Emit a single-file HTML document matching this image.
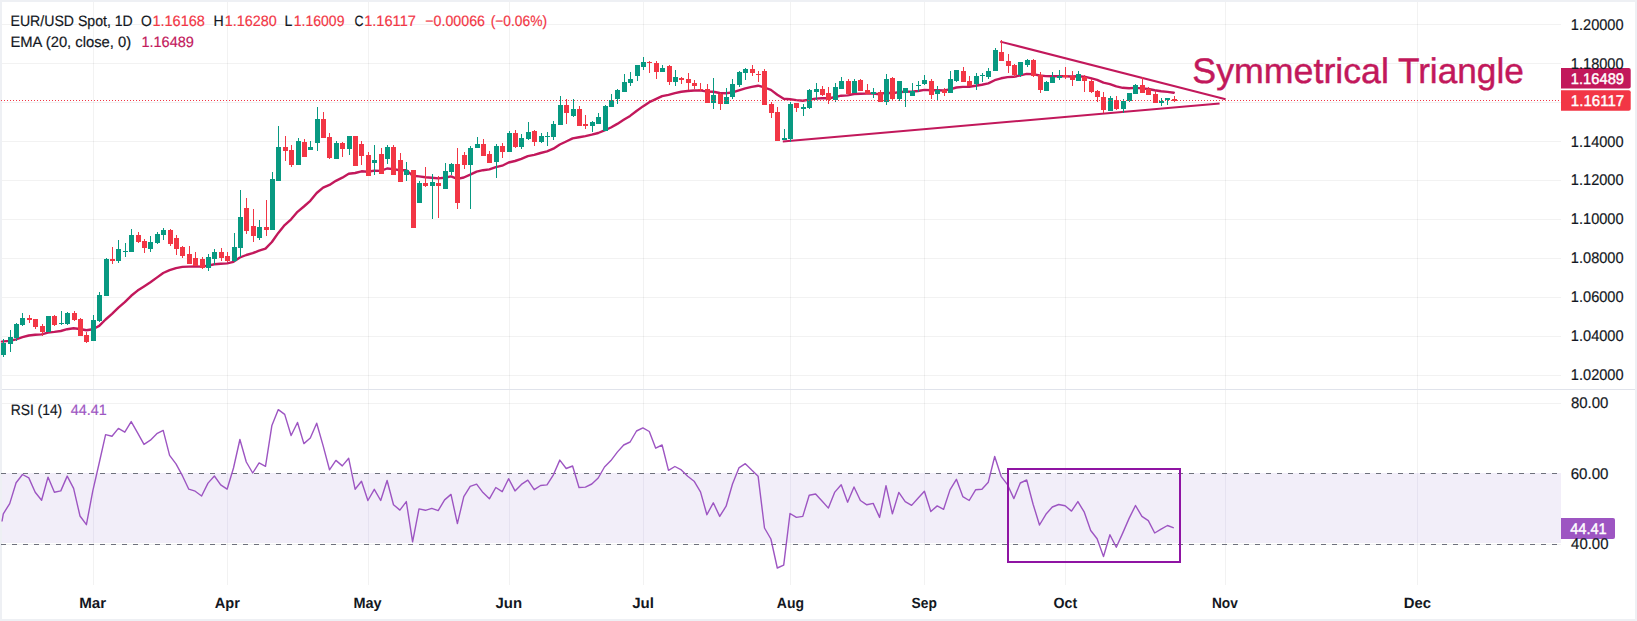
<!DOCTYPE html>
<html lang="en"><head><meta charset="utf-8"><title>EUR/USD Spot 1D chart</title>
<style>html,body{margin:0;padding:0;background:#fff;}body{width:1637px;height:621px;overflow:hidden;}svg{display:block;}</style>
</head><body>
<svg width="1637" height="621" viewBox="0 0 1637 621" font-family='"Liberation Sans", Arial, sans-serif' text-rendering="geometricPrecision">
<rect x="0" y="0" width="1637" height="621" fill="#EEF0F4"/>
<rect x="2" y="2" width="1633" height="617" fill="#ffffff"/>
<g shape-rendering="crispEdges" fill="rgba(30,40,40,0.06)">
<rect x="93" y="2" width="1" height="583"/>
<rect x="227" y="2" width="1" height="583"/>
<rect x="368" y="2" width="1" height="583"/>
<rect x="509" y="2" width="1" height="583"/>
<rect x="643" y="2" width="1" height="583"/>
<rect x="790" y="2" width="1" height="583"/>
<rect x="924" y="2" width="1" height="583"/>
<rect x="1065" y="2" width="1" height="583"/>
<rect x="1225" y="2" width="1" height="583"/>
<rect x="1417" y="2" width="1" height="583"/>
<rect x="2" y="24" width="1559" height="1"/>
<rect x="2" y="63" width="1559" height="1"/>
<rect x="2" y="102" width="1559" height="1"/>
<rect x="2" y="141" width="1559" height="1"/>
<rect x="2" y="180" width="1559" height="1"/>
<rect x="2" y="219" width="1559" height="1"/>
<rect x="2" y="258" width="1559" height="1"/>
<rect x="2" y="297" width="1559" height="1"/>
<rect x="2" y="336" width="1559" height="1"/>
<rect x="2" y="375" width="1559" height="1"/>
<rect x="2" y="403" width="1559" height="1"/>
<rect x="2" y="473" width="1559" height="1"/>
<rect x="2" y="544" width="1559" height="1"/>
</g>
<rect x="2" y="389" width="1633" height="1" fill="#E0E3EB" shape-rendering="crispEdges"/>
<rect x="2" y="473" width="1559" height="70.2" fill="#F2EEF9" shape-rendering="crispEdges"/>
<g shape-rendering="crispEdges" fill="#E6E2F0">
<rect x="93" y="473" width="1" height="70"/>
<rect x="227" y="473" width="1" height="70"/>
<rect x="368" y="473" width="1" height="70"/>
<rect x="509" y="473" width="1" height="70"/>
<rect x="643" y="473" width="1" height="70"/>
<rect x="790" y="473" width="1" height="70"/>
<rect x="924" y="473" width="1" height="70"/>
<rect x="1065" y="473" width="1" height="70"/>
<rect x="1225" y="473" width="1" height="70"/>
<rect x="1417" y="473" width="1" height="70"/>
</g>
<line x1="1" y1="473.5" x2="1561" y2="473.5" stroke="#6E717C" stroke-width="1" stroke-dasharray="5 6" shape-rendering="crispEdges"/>
<line x1="1" y1="544.5" x2="1561" y2="544.5" stroke="#6E717C" stroke-width="1" stroke-dasharray="5 6" shape-rendering="crispEdges"/>
<path d="M2.0,341.6 L3.3,341.4 L9.7,340.9 L16.1,339.3 L22.5,337.2 L28.8,335.5 L35.2,334.7 L41.6,334.4 L48.0,332.6 L54.4,331.9 L60.8,331.0 L67.2,329.2 L73.6,328.3 L80.0,329.0 L86.4,330.2 L92.8,329.2 L99.2,325.9 L105.6,319.5 L112.0,313.9 L118.4,307.7 L124.8,302.2 L131.2,295.8 L137.6,290.6 L144.0,286.5 L150.4,282.2 L156.8,277.6 L163.2,273.0 L169.6,270.2 L176.0,268.1 L182.4,266.9 L188.8,266.6 L195.2,266.5 L201.6,266.6 L208.0,265.6 L214.4,264.3 L220.7,263.7 L227.1,263.4 L233.5,261.8 L239.9,257.5 L246.3,255.0 L252.7,253.2 L259.1,250.7 L265.5,248.6 L271.9,242.0 L278.3,232.9 L284.7,225.1 L291.1,219.3 L297.5,211.8 L303.9,206.5 L310.3,200.8 L316.7,193.0 L323.1,187.7 L329.5,184.9 L335.9,180.8 L342.3,177.7 L348.7,173.8 L355.1,173.0 L361.5,171.3 L367.9,171.7 L374.3,170.6 L380.7,170.9 L387.1,168.5 L393.5,169.1 L399.9,170.3 L406.3,170.2 L412.6,175.7 L419.0,176.4 L425.4,177.2 L431.8,177.7 L438.2,178.4 L444.6,177.7 L451.0,176.4 L457.4,178.9 L463.8,177.5 L470.2,174.7 L476.6,171.7 L483.0,170.2 L489.4,169.4 L495.8,167.2 L502.2,165.7 L508.6,162.5 L515.0,161.0 L521.4,158.8 L527.8,156.2 L534.2,154.8 L540.6,153.0 L547.0,151.4 L553.4,148.7 L559.8,144.5 L566.2,141.5 L572.6,138.4 L579.0,137.2 L585.4,136.1 L591.8,134.7 L598.2,133.0 L604.5,130.4 L610.9,127.5 L617.3,123.9 L623.7,119.8 L630.1,115.9 L636.5,111.0 L642.9,106.4 L649.3,102.2 L655.7,99.2 L662.1,96.2 L668.5,94.8 L674.9,93.1 L681.3,91.8 L687.7,91.0 L694.1,90.5 L700.5,90.4 L706.9,91.6 L713.3,91.8 L719.7,93.0 L726.1,93.3 L732.5,92.4 L738.9,90.4 L745.3,88.4 L751.7,86.9 L758.1,85.7 L764.5,87.5 L770.9,89.9 L777.3,94.7 L783.7,98.8 L790.0,99.3 L796.4,100.1 L802.8,100.7 L809.2,99.6 L815.6,98.6 L822.0,98.2 L828.4,98.3 L834.8,97.2 L841.2,95.7 L847.6,95.4 L854.0,94.0 L860.4,93.7 L866.8,93.6 L873.2,93.5 L879.6,94.2 L886.0,92.7 L892.4,93.3 L898.8,92.1 L905.2,91.7 L911.6,91.6 L918.0,91.0 L924.4,89.9 L930.8,90.3 L937.2,90.3 L943.6,90.5 L950.0,89.4 L956.4,87.5 L962.8,86.9 L969.2,86.8 L975.6,85.7 L981.9,84.7 L988.3,83.4 L994.7,80.2 L1001.1,78.3 L1007.5,77.1 L1013.9,76.8 L1020.3,75.4 L1026.7,73.9 L1033.1,74.1 L1039.5,75.5 L1045.9,76.1 L1052.3,76.2 L1058.7,76.1 L1065.1,76.2 L1071.5,76.5 L1077.9,76.2 L1084.3,76.6 L1090.7,78.1 L1097.1,79.8 L1103.5,82.7 L1109.9,84.1 L1116.3,86.4 L1122.7,87.8 L1129.1,88.3 L1135.5,87.9 L1141.9,88.4 L1148.3,89.0 L1154.7,90.3 L1161.1,91.2 L1167.5,91.9 L1173.8,92.7" fill="none" stroke="#C2185B" stroke-width="2.4" stroke-linejoin="round" stroke-linecap="round"/>
<line x1="1000.2" y1="41.6" x2="1225.6" y2="99.3" stroke="#C2185B" stroke-width="2"/>
<line x1="782.8" y1="141.5" x2="1219.6" y2="103.5" stroke="#C2185B" stroke-width="2"/>
<g shape-rendering="crispEdges">
<rect x="3" y="339" width="1" height="18" fill="#089981"/>
<rect x="1" y="343" width="5" height="12" fill="#089981"/>
<rect x="10" y="330" width="1" height="22" fill="#089981"/>
<rect x="8" y="337" width="5" height="7" fill="#089981"/>
<rect x="16" y="323" width="1" height="18" fill="#089981"/>
<rect x="14" y="324" width="5" height="14" fill="#089981"/>
<rect x="22" y="313" width="1" height="13" fill="#089981"/>
<rect x="20" y="318" width="5" height="7" fill="#089981"/>
<rect x="29" y="315" width="1" height="8" fill="#F23645"/>
<rect x="27" y="318" width="5" height="2" fill="#F23645"/>
<rect x="35" y="319" width="1" height="10" fill="#F23645"/>
<rect x="33" y="319" width="5" height="8" fill="#F23645"/>
<rect x="42" y="324" width="1" height="12" fill="#F23645"/>
<rect x="40" y="326" width="5" height="6" fill="#F23645"/>
<rect x="48" y="316" width="1" height="16" fill="#089981"/>
<rect x="46" y="316" width="5" height="16" fill="#089981"/>
<rect x="54" y="315" width="1" height="11" fill="#F23645"/>
<rect x="52" y="316" width="5" height="9" fill="#F23645"/>
<rect x="61" y="311" width="1" height="14" fill="#089981"/>
<rect x="59" y="323" width="5" height="1" fill="#089981"/>
<rect x="67" y="312" width="1" height="13" fill="#089981"/>
<rect x="65" y="313" width="5" height="11" fill="#089981"/>
<rect x="74" y="311" width="1" height="10" fill="#F23645"/>
<rect x="72" y="313" width="5" height="7" fill="#F23645"/>
<rect x="80" y="318" width="1" height="18" fill="#F23645"/>
<rect x="78" y="319" width="5" height="17" fill="#F23645"/>
<rect x="86" y="332" width="1" height="11" fill="#F23645"/>
<rect x="84" y="335" width="5" height="7" fill="#F23645"/>
<rect x="93" y="315" width="1" height="26" fill="#089981"/>
<rect x="91" y="320" width="5" height="21" fill="#089981"/>
<rect x="99" y="292" width="1" height="30" fill="#089981"/>
<rect x="97" y="295" width="5" height="26" fill="#089981"/>
<rect x="106" y="258" width="1" height="38" fill="#089981"/>
<rect x="104" y="259" width="5" height="37" fill="#089981"/>
<rect x="112" y="247" width="1" height="17" fill="#F23645"/>
<rect x="110" y="259" width="5" height="2" fill="#F23645"/>
<rect x="118" y="240" width="1" height="23" fill="#089981"/>
<rect x="116" y="249" width="5" height="12" fill="#089981"/>
<rect x="125" y="243" width="1" height="14" fill="#089981"/>
<rect x="123" y="251" width="5" height="1" fill="#089981"/>
<rect x="131" y="229" width="1" height="23" fill="#089981"/>
<rect x="129" y="235" width="5" height="17" fill="#089981"/>
<rect x="138" y="232" width="1" height="11" fill="#F23645"/>
<rect x="136" y="235" width="5" height="7" fill="#F23645"/>
<rect x="144" y="239" width="1" height="14" fill="#F23645"/>
<rect x="142" y="241" width="5" height="7" fill="#F23645"/>
<rect x="150" y="236" width="1" height="16" fill="#089981"/>
<rect x="148" y="242" width="5" height="7" fill="#089981"/>
<rect x="157" y="232" width="1" height="12" fill="#089981"/>
<rect x="155" y="234" width="5" height="9" fill="#089981"/>
<rect x="163" y="228" width="1" height="12" fill="#089981"/>
<rect x="161" y="230" width="5" height="5" fill="#089981"/>
<rect x="170" y="229" width="1" height="17" fill="#F23645"/>
<rect x="168" y="230" width="5" height="14" fill="#F23645"/>
<rect x="176" y="235" width="1" height="20" fill="#F23645"/>
<rect x="174" y="238" width="5" height="11" fill="#F23645"/>
<rect x="182" y="246" width="1" height="12" fill="#F23645"/>
<rect x="180" y="247" width="5" height="9" fill="#F23645"/>
<rect x="189" y="246" width="1" height="18" fill="#F23645"/>
<rect x="187" y="254" width="5" height="10" fill="#F23645"/>
<rect x="195" y="252" width="1" height="14" fill="#F23645"/>
<rect x="193" y="258" width="5" height="8" fill="#F23645"/>
<rect x="202" y="257" width="1" height="12" fill="#F23645"/>
<rect x="200" y="259" width="5" height="9" fill="#F23645"/>
<rect x="208" y="254" width="1" height="17" fill="#089981"/>
<rect x="206" y="257" width="5" height="11" fill="#089981"/>
<rect x="214" y="249" width="1" height="16" fill="#089981"/>
<rect x="212" y="252" width="5" height="7" fill="#089981"/>
<rect x="221" y="248" width="1" height="13" fill="#F23645"/>
<rect x="219" y="252" width="5" height="6" fill="#F23645"/>
<rect x="227" y="252" width="1" height="10" fill="#F23645"/>
<rect x="225" y="256" width="5" height="5" fill="#F23645"/>
<rect x="234" y="233" width="1" height="29" fill="#089981"/>
<rect x="232" y="247" width="5" height="14" fill="#089981"/>
<rect x="240" y="190" width="1" height="67" fill="#089981"/>
<rect x="238" y="217" width="5" height="31" fill="#089981"/>
<rect x="246" y="198" width="1" height="36" fill="#F23645"/>
<rect x="244" y="208" width="5" height="23" fill="#F23645"/>
<rect x="253" y="209" width="1" height="33" fill="#F23645"/>
<rect x="251" y="226" width="5" height="10" fill="#F23645"/>
<rect x="259" y="220" width="1" height="20" fill="#089981"/>
<rect x="257" y="227" width="5" height="11" fill="#089981"/>
<rect x="266" y="200" width="1" height="36" fill="#F23645"/>
<rect x="264" y="227" width="5" height="3" fill="#F23645"/>
<rect x="272" y="172" width="1" height="58" fill="#089981"/>
<rect x="270" y="179" width="5" height="51" fill="#089981"/>
<rect x="278" y="126" width="1" height="55" fill="#089981"/>
<rect x="276" y="147" width="5" height="34" fill="#089981"/>
<rect x="285" y="136" width="1" height="25" fill="#F23645"/>
<rect x="283" y="147" width="5" height="4" fill="#F23645"/>
<rect x="291" y="145" width="1" height="22" fill="#F23645"/>
<rect x="289" y="150" width="5" height="15" fill="#F23645"/>
<rect x="298" y="138" width="1" height="27" fill="#089981"/>
<rect x="296" y="141" width="5" height="24" fill="#089981"/>
<rect x="304" y="139" width="1" height="18" fill="#F23645"/>
<rect x="302" y="142" width="5" height="15" fill="#F23645"/>
<rect x="310" y="141" width="1" height="9" fill="#089981"/>
<rect x="308" y="147" width="5" height="3" fill="#089981"/>
<rect x="317" y="107" width="1" height="44" fill="#089981"/>
<rect x="315" y="119" width="5" height="24" fill="#089981"/>
<rect x="323" y="112" width="1" height="26" fill="#F23645"/>
<rect x="321" y="119" width="5" height="19" fill="#F23645"/>
<rect x="329" y="133" width="1" height="26" fill="#F23645"/>
<rect x="327" y="137" width="5" height="21" fill="#F23645"/>
<rect x="336" y="141" width="1" height="18" fill="#089981"/>
<rect x="334" y="143" width="5" height="16" fill="#089981"/>
<rect x="342" y="142" width="1" height="15" fill="#F23645"/>
<rect x="340" y="143" width="5" height="6" fill="#F23645"/>
<rect x="349" y="136" width="1" height="19" fill="#089981"/>
<rect x="347" y="136" width="5" height="13" fill="#089981"/>
<rect x="355" y="136" width="1" height="30" fill="#F23645"/>
<rect x="353" y="136" width="5" height="30" fill="#F23645"/>
<rect x="361" y="141" width="1" height="24" fill="#F23645"/>
<rect x="359" y="144" width="5" height="12" fill="#F23645"/>
<rect x="368" y="152" width="1" height="24" fill="#F23645"/>
<rect x="366" y="155" width="5" height="21" fill="#F23645"/>
<rect x="374" y="145" width="1" height="30" fill="#089981"/>
<rect x="372" y="160" width="5" height="3" fill="#089981"/>
<rect x="381" y="148" width="1" height="26" fill="#F23645"/>
<rect x="379" y="154" width="5" height="20" fill="#F23645"/>
<rect x="387" y="145" width="1" height="19" fill="#089981"/>
<rect x="385" y="147" width="5" height="12" fill="#089981"/>
<rect x="393" y="145" width="1" height="30" fill="#F23645"/>
<rect x="391" y="147" width="5" height="28" fill="#F23645"/>
<rect x="400" y="153" width="1" height="29" fill="#F23645"/>
<rect x="398" y="160" width="5" height="22" fill="#F23645"/>
<rect x="406" y="162" width="1" height="19" fill="#089981"/>
<rect x="404" y="170" width="5" height="5" fill="#089981"/>
<rect x="413" y="170" width="1" height="58" fill="#F23645"/>
<rect x="411" y="170" width="5" height="58" fill="#F23645"/>
<rect x="419" y="181" width="1" height="22" fill="#089981"/>
<rect x="417" y="183" width="5" height="20" fill="#089981"/>
<rect x="425" y="167" width="1" height="20" fill="#F23645"/>
<rect x="423" y="183" width="5" height="3" fill="#F23645"/>
<rect x="432" y="174" width="1" height="45" fill="#089981"/>
<rect x="430" y="182" width="5" height="4" fill="#089981"/>
<rect x="438" y="176" width="1" height="42" fill="#F23645"/>
<rect x="436" y="183" width="5" height="3" fill="#F23645"/>
<rect x="445" y="163" width="1" height="26" fill="#089981"/>
<rect x="443" y="171" width="5" height="18" fill="#089981"/>
<rect x="451" y="163" width="1" height="12" fill="#089981"/>
<rect x="449" y="164" width="5" height="8" fill="#089981"/>
<rect x="457" y="148" width="1" height="61" fill="#F23645"/>
<rect x="455" y="164" width="5" height="39" fill="#F23645"/>
<rect x="464" y="152" width="1" height="17" fill="#F23645"/>
<rect x="462" y="155" width="5" height="10" fill="#F23645"/>
<rect x="470" y="146" width="1" height="63" fill="#089981"/>
<rect x="468" y="148" width="5" height="17" fill="#089981"/>
<rect x="477" y="137" width="1" height="11" fill="#089981"/>
<rect x="475" y="144" width="5" height="4" fill="#089981"/>
<rect x="483" y="139" width="1" height="17" fill="#F23645"/>
<rect x="481" y="144" width="5" height="12" fill="#F23645"/>
<rect x="489" y="151" width="1" height="12" fill="#F23645"/>
<rect x="487" y="154" width="5" height="9" fill="#F23645"/>
<rect x="496" y="144" width="1" height="34" fill="#089981"/>
<rect x="494" y="146" width="5" height="16" fill="#089981"/>
<rect x="502" y="143" width="1" height="15" fill="#F23645"/>
<rect x="500" y="146" width="5" height="6" fill="#F23645"/>
<rect x="509" y="131" width="1" height="21" fill="#089981"/>
<rect x="507" y="133" width="5" height="19" fill="#089981"/>
<rect x="515" y="130" width="1" height="18" fill="#F23645"/>
<rect x="513" y="133" width="5" height="14" fill="#F23645"/>
<rect x="521" y="134" width="1" height="15" fill="#089981"/>
<rect x="519" y="138" width="5" height="9" fill="#089981"/>
<rect x="528" y="122" width="1" height="18" fill="#089981"/>
<rect x="526" y="132" width="5" height="7" fill="#089981"/>
<rect x="534" y="130" width="1" height="16" fill="#F23645"/>
<rect x="532" y="131" width="5" height="11" fill="#F23645"/>
<rect x="541" y="133" width="1" height="10" fill="#089981"/>
<rect x="539" y="136" width="5" height="6" fill="#089981"/>
<rect x="547" y="132" width="1" height="14" fill="#089981"/>
<rect x="545" y="136" width="5" height="1" fill="#089981"/>
<rect x="553" y="121" width="1" height="19" fill="#089981"/>
<rect x="551" y="124" width="5" height="13" fill="#089981"/>
<rect x="560" y="96" width="1" height="29" fill="#089981"/>
<rect x="558" y="105" width="5" height="20" fill="#089981"/>
<rect x="566" y="99" width="1" height="25" fill="#F23645"/>
<rect x="564" y="105" width="5" height="8" fill="#F23645"/>
<rect x="573" y="99" width="1" height="18" fill="#089981"/>
<rect x="571" y="109" width="5" height="7" fill="#089981"/>
<rect x="579" y="106" width="1" height="20" fill="#F23645"/>
<rect x="577" y="109" width="5" height="17" fill="#F23645"/>
<rect x="585" y="115" width="1" height="14" fill="#F23645"/>
<rect x="583" y="124" width="5" height="2" fill="#F23645"/>
<rect x="592" y="121" width="1" height="11" fill="#089981"/>
<rect x="590" y="122" width="5" height="4" fill="#089981"/>
<rect x="598" y="113" width="1" height="11" fill="#089981"/>
<rect x="596" y="117" width="5" height="7" fill="#089981"/>
<rect x="605" y="105" width="1" height="26" fill="#089981"/>
<rect x="603" y="106" width="5" height="25" fill="#089981"/>
<rect x="611" y="94" width="1" height="13" fill="#089981"/>
<rect x="609" y="100" width="5" height="7" fill="#089981"/>
<rect x="617" y="89" width="1" height="15" fill="#089981"/>
<rect x="615" y="90" width="5" height="9" fill="#089981"/>
<rect x="624" y="74" width="1" height="18" fill="#089981"/>
<rect x="622" y="82" width="5" height="10" fill="#089981"/>
<rect x="630" y="72" width="1" height="14" fill="#089981"/>
<rect x="628" y="79" width="5" height="4" fill="#089981"/>
<rect x="637" y="65" width="1" height="16" fill="#089981"/>
<rect x="635" y="65" width="5" height="11" fill="#089981"/>
<rect x="643" y="57" width="1" height="13" fill="#089981"/>
<rect x="641" y="62" width="5" height="5" fill="#089981"/>
<rect x="649" y="61" width="1" height="12" fill="#F23645"/>
<rect x="647" y="62" width="5" height="1" fill="#F23645"/>
<rect x="656" y="61" width="1" height="18" fill="#F23645"/>
<rect x="654" y="63" width="5" height="9" fill="#F23645"/>
<rect x="662" y="65" width="1" height="7" fill="#089981"/>
<rect x="660" y="68" width="5" height="4" fill="#089981"/>
<rect x="669" y="65" width="1" height="20" fill="#F23645"/>
<rect x="667" y="66" width="5" height="16" fill="#F23645"/>
<rect x="675" y="70" width="1" height="16" fill="#089981"/>
<rect x="673" y="77" width="5" height="5" fill="#089981"/>
<rect x="681" y="77" width="1" height="7" fill="#F23645"/>
<rect x="679" y="78" width="5" height="2" fill="#F23645"/>
<rect x="688" y="73" width="1" height="17" fill="#F23645"/>
<rect x="686" y="79" width="5" height="4" fill="#F23645"/>
<rect x="694" y="80" width="1" height="9" fill="#F23645"/>
<rect x="692" y="83" width="5" height="3" fill="#F23645"/>
<rect x="700" y="83" width="1" height="8" fill="#F23645"/>
<rect x="698" y="89" width="5" height="1" fill="#F23645"/>
<rect x="707" y="84" width="1" height="19" fill="#F23645"/>
<rect x="705" y="89" width="5" height="14" fill="#F23645"/>
<rect x="713" y="78" width="1" height="31" fill="#089981"/>
<rect x="711" y="95" width="5" height="8" fill="#089981"/>
<rect x="720" y="93" width="1" height="17" fill="#F23645"/>
<rect x="718" y="94" width="5" height="10" fill="#F23645"/>
<rect x="726" y="88" width="1" height="16" fill="#089981"/>
<rect x="724" y="97" width="5" height="7" fill="#089981"/>
<rect x="732" y="79" width="1" height="20" fill="#089981"/>
<rect x="730" y="84" width="5" height="13" fill="#089981"/>
<rect x="739" y="71" width="1" height="16" fill="#089981"/>
<rect x="737" y="72" width="5" height="13" fill="#089981"/>
<rect x="745" y="68" width="1" height="12" fill="#089981"/>
<rect x="743" y="69" width="5" height="4" fill="#089981"/>
<rect x="752" y="65" width="1" height="11" fill="#F23645"/>
<rect x="750" y="69" width="5" height="4" fill="#F23645"/>
<rect x="758" y="71" width="1" height="11" fill="#F23645"/>
<rect x="756" y="74" width="5" height="1" fill="#F23645"/>
<rect x="764" y="69" width="1" height="36" fill="#F23645"/>
<rect x="762" y="71" width="5" height="34" fill="#F23645"/>
<rect x="771" y="102" width="1" height="16" fill="#F23645"/>
<rect x="769" y="104" width="5" height="9" fill="#F23645"/>
<rect x="777" y="107" width="1" height="34" fill="#F23645"/>
<rect x="775" y="112" width="5" height="29" fill="#F23645"/>
<rect x="784" y="129" width="1" height="11" fill="#089981"/>
<rect x="782" y="138" width="5" height="2" fill="#089981"/>
<rect x="790" y="102" width="1" height="40" fill="#089981"/>
<rect x="788" y="104" width="5" height="35" fill="#089981"/>
<rect x="796" y="103" width="1" height="9" fill="#F23645"/>
<rect x="794" y="103" width="5" height="5" fill="#F23645"/>
<rect x="803" y="104" width="1" height="12" fill="#089981"/>
<rect x="801" y="107" width="5" height="2" fill="#089981"/>
<rect x="809" y="89" width="1" height="20" fill="#089981"/>
<rect x="807" y="90" width="5" height="18" fill="#089981"/>
<rect x="816" y="83" width="1" height="17" fill="#089981"/>
<rect x="814" y="89" width="5" height="3" fill="#089981"/>
<rect x="822" y="86" width="1" height="10" fill="#F23645"/>
<rect x="820" y="89" width="5" height="6" fill="#F23645"/>
<rect x="828" y="87" width="1" height="17" fill="#F23645"/>
<rect x="826" y="93" width="5" height="7" fill="#F23645"/>
<rect x="835" y="83" width="1" height="19" fill="#089981"/>
<rect x="833" y="87" width="5" height="13" fill="#089981"/>
<rect x="841" y="77" width="1" height="12" fill="#089981"/>
<rect x="839" y="81" width="5" height="8" fill="#089981"/>
<rect x="848" y="79" width="1" height="16" fill="#F23645"/>
<rect x="846" y="81" width="5" height="13" fill="#F23645"/>
<rect x="854" y="79" width="1" height="14" fill="#089981"/>
<rect x="852" y="81" width="5" height="12" fill="#089981"/>
<rect x="860" y="79" width="1" height="12" fill="#F23645"/>
<rect x="858" y="80" width="5" height="11" fill="#F23645"/>
<rect x="867" y="84" width="1" height="10" fill="#F23645"/>
<rect x="865" y="90" width="5" height="4" fill="#F23645"/>
<rect x="873" y="88" width="1" height="10" fill="#089981"/>
<rect x="871" y="92" width="5" height="2" fill="#089981"/>
<rect x="880" y="90" width="1" height="12" fill="#F23645"/>
<rect x="878" y="92" width="5" height="10" fill="#F23645"/>
<rect x="886" y="74" width="1" height="31" fill="#089981"/>
<rect x="884" y="79" width="5" height="23" fill="#089981"/>
<rect x="892" y="77" width="1" height="24" fill="#F23645"/>
<rect x="890" y="78" width="5" height="21" fill="#F23645"/>
<rect x="899" y="81" width="1" height="20" fill="#089981"/>
<rect x="897" y="81" width="5" height="18" fill="#089981"/>
<rect x="905" y="88" width="1" height="19" fill="#089981"/>
<rect x="903" y="88" width="5" height="5" fill="#089981"/>
<rect x="912" y="83" width="1" height="13" fill="#089981"/>
<rect x="910" y="91" width="5" height="5" fill="#089981"/>
<rect x="918" y="81" width="1" height="11" fill="#089981"/>
<rect x="916" y="85" width="5" height="1" fill="#089981"/>
<rect x="924" y="75" width="1" height="10" fill="#089981"/>
<rect x="922" y="80" width="5" height="4" fill="#089981"/>
<rect x="931" y="79" width="1" height="20" fill="#F23645"/>
<rect x="929" y="81" width="5" height="14" fill="#F23645"/>
<rect x="937" y="86" width="1" height="15" fill="#089981"/>
<rect x="935" y="90" width="5" height="4" fill="#089981"/>
<rect x="944" y="88" width="1" height="8" fill="#F23645"/>
<rect x="942" y="90" width="5" height="3" fill="#F23645"/>
<rect x="950" y="71" width="1" height="22" fill="#089981"/>
<rect x="948" y="79" width="5" height="14" fill="#089981"/>
<rect x="956" y="70" width="1" height="12" fill="#089981"/>
<rect x="954" y="70" width="5" height="11" fill="#089981"/>
<rect x="963" y="67" width="1" height="15" fill="#F23645"/>
<rect x="961" y="71" width="5" height="11" fill="#F23645"/>
<rect x="969" y="76" width="1" height="10" fill="#F23645"/>
<rect x="967" y="81" width="5" height="5" fill="#F23645"/>
<rect x="976" y="73" width="1" height="17" fill="#089981"/>
<rect x="974" y="76" width="5" height="8" fill="#089981"/>
<rect x="982" y="73" width="1" height="9" fill="#089981"/>
<rect x="980" y="75" width="5" height="1" fill="#089981"/>
<rect x="988" y="68" width="1" height="11" fill="#089981"/>
<rect x="986" y="71" width="5" height="6" fill="#089981"/>
<rect x="995" y="48" width="1" height="23" fill="#089981"/>
<rect x="993" y="50" width="5" height="21" fill="#089981"/>
<rect x="1001" y="40" width="1" height="21" fill="#F23645"/>
<rect x="999" y="52" width="5" height="9" fill="#F23645"/>
<rect x="1008" y="54" width="1" height="19" fill="#F23645"/>
<rect x="1006" y="61" width="5" height="5" fill="#F23645"/>
<rect x="1014" y="64" width="1" height="13" fill="#F23645"/>
<rect x="1012" y="65" width="5" height="10" fill="#F23645"/>
<rect x="1020" y="62" width="1" height="15" fill="#089981"/>
<rect x="1018" y="62" width="5" height="13" fill="#089981"/>
<rect x="1027" y="59" width="1" height="8" fill="#089981"/>
<rect x="1025" y="60" width="5" height="5" fill="#089981"/>
<rect x="1033" y="59" width="1" height="18" fill="#F23645"/>
<rect x="1031" y="60" width="5" height="16" fill="#F23645"/>
<rect x="1040" y="72" width="1" height="21" fill="#F23645"/>
<rect x="1038" y="75" width="5" height="15" fill="#F23645"/>
<rect x="1046" y="81" width="1" height="10" fill="#089981"/>
<rect x="1044" y="82" width="5" height="9" fill="#089981"/>
<rect x="1052" y="72" width="1" height="11" fill="#089981"/>
<rect x="1050" y="77" width="5" height="6" fill="#089981"/>
<rect x="1059" y="70" width="1" height="10" fill="#089981"/>
<rect x="1057" y="76" width="5" height="2" fill="#089981"/>
<rect x="1065" y="67" width="1" height="12" fill="#F23645"/>
<rect x="1063" y="75" width="5" height="2" fill="#F23645"/>
<rect x="1072" y="71" width="1" height="15" fill="#F23645"/>
<rect x="1070" y="76" width="5" height="4" fill="#F23645"/>
<rect x="1078" y="71" width="1" height="10" fill="#089981"/>
<rect x="1076" y="74" width="5" height="7" fill="#089981"/>
<rect x="1084" y="75" width="1" height="17" fill="#F23645"/>
<rect x="1082" y="77" width="5" height="4" fill="#F23645"/>
<rect x="1091" y="79" width="1" height="14" fill="#F23645"/>
<rect x="1089" y="81" width="5" height="11" fill="#F23645"/>
<rect x="1097" y="90" width="1" height="12" fill="#F23645"/>
<rect x="1095" y="91" width="5" height="6" fill="#F23645"/>
<rect x="1103" y="92" width="1" height="21" fill="#F23645"/>
<rect x="1101" y="97" width="5" height="13" fill="#F23645"/>
<rect x="1110" y="96" width="1" height="15" fill="#089981"/>
<rect x="1108" y="98" width="5" height="13" fill="#089981"/>
<rect x="1116" y="96" width="1" height="14" fill="#F23645"/>
<rect x="1114" y="100" width="5" height="9" fill="#F23645"/>
<rect x="1123" y="99" width="1" height="14" fill="#089981"/>
<rect x="1121" y="101" width="5" height="8" fill="#089981"/>
<rect x="1129" y="93" width="1" height="9" fill="#089981"/>
<rect x="1127" y="93" width="5" height="8" fill="#089981"/>
<rect x="1135" y="84" width="1" height="10" fill="#089981"/>
<rect x="1133" y="85" width="5" height="9" fill="#089981"/>
<rect x="1142" y="77" width="1" height="16" fill="#F23645"/>
<rect x="1140" y="85" width="5" height="8" fill="#F23645"/>
<rect x="1148" y="87" width="1" height="8" fill="#F23645"/>
<rect x="1146" y="89" width="5" height="6" fill="#F23645"/>
<rect x="1155" y="91" width="1" height="12" fill="#F23645"/>
<rect x="1153" y="94" width="5" height="9" fill="#F23645"/>
<rect x="1161" y="98" width="1" height="8" fill="#089981"/>
<rect x="1159" y="101" width="5" height="2" fill="#089981"/>
<rect x="1167" y="98" width="1" height="7" fill="#089981"/>
<rect x="1165" y="98" width="5" height="2" fill="#089981"/>
<rect x="1174" y="96" width="1" height="6" fill="#F23645"/>
<rect x="1172" y="99" width="5" height="2" fill="#F23645"/>
</g>
<line x1="1" y1="100.5" x2="1561" y2="100.5" stroke="#F23645" stroke-width="1" stroke-dasharray="1 2" shape-rendering="crispEdges"/>
<path d="M2.0,521.5 L3.3,513.8 L9.7,503.6 L16.1,482.8 L22.5,474.5 L28.8,477.9 L35.2,492.3 L41.6,500.2 L48.0,477.1 L54.4,492.3 L60.8,490.9 L67.2,476.1 L73.6,488.4 L80.0,516.0 L86.4,524.7 L92.8,490.9 L99.2,463.0 L105.6,434.6 L112.0,436.3 L118.4,428.4 L124.8,432.2 L131.2,421.6 L137.6,432.9 L144.0,444.4 L150.4,440.2 L156.8,433.7 L163.2,430.4 L169.6,455.4 L176.0,463.8 L182.4,475.7 L188.8,489.2 L195.2,491.2 L201.6,496.0 L208.0,483.1 L214.4,476.0 L220.7,484.8 L227.1,489.2 L233.5,468.0 L239.9,439.5 L246.3,462.0 L252.7,473.0 L259.1,462.9 L265.5,466.3 L271.9,425.4 L278.3,409.6 L284.7,414.4 L291.1,435.5 L297.5,422.5 L303.9,443.6 L310.3,438.0 L316.7,423.2 L323.1,445.6 L329.5,469.8 L335.9,460.4 L342.3,465.9 L348.7,458.3 L355.1,489.2 L361.5,481.2 L367.9,500.5 L374.3,489.3 L380.7,500.5 L387.1,480.5 L393.5,504.7 L399.9,510.1 L406.3,501.6 L412.6,541.9 L419.0,508.9 L425.4,510.3 L431.8,508.4 L438.2,510.6 L444.6,499.9 L451.0,494.4 L457.4,523.6 L463.8,496.6 L470.2,486.4 L476.6,484.2 L483.0,492.6 L489.4,498.8 L495.8,487.5 L502.2,491.7 L508.6,478.7 L515.0,490.9 L521.4,484.4 L527.8,480.2 L534.2,489.7 L540.6,485.5 L547.0,484.9 L553.4,474.8 L559.8,460.1 L566.2,468.5 L572.6,466.0 L579.0,487.5 L585.4,487.1 L591.8,484.0 L598.2,478.0 L604.5,467.0 L610.9,460.6 L617.3,452.1 L623.7,445.0 L630.1,442.0 L636.5,431.0 L642.9,427.9 L649.3,431.5 L655.7,448.2 L662.1,445.0 L668.5,470.4 L674.9,466.5 L681.3,469.9 L687.7,476.3 L694.1,481.2 L700.5,491.9 L706.9,514.7 L713.3,502.8 L719.7,516.4 L726.1,506.2 L732.5,484.0 L738.9,467.9 L745.3,463.7 L751.7,470.1 L758.1,476.2 L764.5,528.0 L770.9,539.0 L777.3,568.0 L783.7,565.1 L790.0,513.5 L796.4,517.4 L802.8,516.4 L809.2,495.2 L815.6,494.0 L822.0,501.0 L828.4,508.1 L834.8,492.1 L841.2,484.8 L847.6,502.2 L854.0,487.0 L860.4,500.5 L866.8,504.8 L873.2,503.4 L879.6,517.4 L886.0,485.6 L892.4,513.9 L898.8,492.4 L905.2,501.7 L911.6,505.4 L918.0,498.3 L924.4,491.2 L930.8,511.5 L937.2,505.9 L943.6,509.3 L950.0,489.9 L956.4,479.3 L962.8,496.6 L969.2,500.5 L975.6,489.8 L981.9,489.3 L988.3,482.2 L994.7,456.5 L1001.1,476.3 L1007.5,484.7 L1013.9,498.6 L1020.3,483.0 L1026.7,480.0 L1033.1,504.2 L1039.5,525.0 L1045.9,514.3 L1052.3,507.0 L1058.7,504.5 L1065.1,505.7 L1071.5,511.1 L1077.9,501.6 L1084.3,512.2 L1090.7,530.5 L1097.1,538.8 L1103.5,556.5 L1109.9,534.7 L1116.3,547.3 L1122.7,533.1 L1129.1,518.4 L1135.5,505.5 L1141.9,516.3 L1148.3,520.6 L1154.7,533.0 L1161.1,529.1 L1167.5,525.5 L1173.8,527.8" fill="none" stroke="#9D55C2" stroke-width="1.4" stroke-linejoin="round"/>
<rect x="1008" y="469" width="172" height="93" fill="none" stroke="#8F14A3" stroke-width="2"/>
<path d="M1561,68 H1628.7 a2,2 0 0 1 2,2 V86.6 a2,2 0 0 1 -2,2 H1561 Z" fill="#C2185B"/>
<path d="M1561,90.2 H1628.7 a2,2 0 0 1 2,2 V108.7 a2,2 0 0 1 -2,2 H1561 Z" fill="#F23645"/>
<path d="M1561,518 H1613 a2,2 0 0 1 2,2 V537 a2,2 0 0 1 -2,2 H1561 Z" fill="#9D55C2"/>
<text id="p0" x="1570.85" y="29.80" font-size="15.5" fill="#131722" font-weight="normal" stroke="#131722" stroke-width="0.19" textLength="52.75" lengthAdjust="spacingAndGlyphs">1.20000</text>
<text id="p1" x="1570.85" y="68.70" font-size="15.5" fill="#131722" font-weight="normal" stroke="#131722" stroke-width="0.19" textLength="52.75" lengthAdjust="spacingAndGlyphs">1.18000</text>
<text id="p3" x="1570.85" y="146.50" font-size="15.5" fill="#131722" font-weight="normal" stroke="#131722" stroke-width="0.19" textLength="52.75" lengthAdjust="spacingAndGlyphs">1.14000</text>
<text id="p4" x="1570.85" y="185.40" font-size="15.5" fill="#131722" font-weight="normal" stroke="#131722" stroke-width="0.19" textLength="52.75" lengthAdjust="spacingAndGlyphs">1.12000</text>
<text id="p5" x="1570.85" y="224.30" font-size="15.5" fill="#131722" font-weight="normal" stroke="#131722" stroke-width="0.19" textLength="52.75" lengthAdjust="spacingAndGlyphs">1.10000</text>
<text id="p6" x="1570.85" y="263.20" font-size="15.5" fill="#131722" font-weight="normal" stroke="#131722" stroke-width="0.19" textLength="52.75" lengthAdjust="spacingAndGlyphs">1.08000</text>
<text id="p7" x="1570.85" y="302.10" font-size="15.5" fill="#131722" font-weight="normal" stroke="#131722" stroke-width="0.19" textLength="52.75" lengthAdjust="spacingAndGlyphs">1.06000</text>
<text id="p8" x="1570.85" y="341.00" font-size="15.5" fill="#131722" font-weight="normal" stroke="#131722" stroke-width="0.19" textLength="52.75" lengthAdjust="spacingAndGlyphs">1.04000</text>
<text id="p9" x="1570.85" y="379.90" font-size="15.5" fill="#131722" font-weight="normal" stroke="#131722" stroke-width="0.19" textLength="52.75" lengthAdjust="spacingAndGlyphs">1.02000</text>
<text id="r80" x="1570.95" y="408.00" font-size="15.5" fill="#131722" font-weight="normal" stroke="#131722" stroke-width="0.19" textLength="37.42" lengthAdjust="spacingAndGlyphs">80.00</text>
<text id="r60" x="1570.74" y="478.70" font-size="15.5" fill="#131722" font-weight="normal" stroke="#131722" stroke-width="0.19" textLength="37.72" lengthAdjust="spacingAndGlyphs">60.00</text>
<text id="r40" x="1571.08" y="549.30" font-size="15.5" fill="#131722" font-weight="normal" stroke="#131722" stroke-width="0.19" textLength="37.38" lengthAdjust="spacingAndGlyphs">40.00</text>
<text id="lab1" x="1570.85" y="83.60" font-size="15.5" fill="#fff" font-weight="normal" stroke="#fff" stroke-width="0.43" textLength="53.14" lengthAdjust="spacingAndGlyphs">1.16489</text>
<text id="lab2" x="1570.87" y="105.90" font-size="15.5" fill="#fff" font-weight="normal" stroke="#fff" stroke-width="0.43" textLength="53.37" lengthAdjust="spacingAndGlyphs">1.16117</text>
<text id="lab3" x="1570.17" y="534.00" font-size="15.5" fill="#fff" font-weight="normal" stroke="#fff" stroke-width="0.43" textLength="36.58" lengthAdjust="spacingAndGlyphs">44.41</text>
<text id="l1" x="10.49" y="25.70" font-size="15" fill="#131722" font-weight="normal" stroke="#131722" stroke-width="0.18" textLength="122.33" lengthAdjust="spacingAndGlyphs">EUR/USD Spot, 1D</text>
<text id="lO" x="141.12" y="25.70" font-size="15" fill="#131722" font-weight="normal" stroke="#131722" stroke-width="0.18" textLength="10.77" lengthAdjust="spacingAndGlyphs">O</text>
<text id="lOv" x="152.41" y="25.70" font-size="15" fill="#F23645" font-weight="normal" stroke="#F23645" stroke-width="0.18" textLength="52.47" lengthAdjust="spacingAndGlyphs">1.16168</text>
<text id="lH" x="213.42" y="25.70" font-size="15" fill="#131722" font-weight="normal" stroke="#131722" stroke-width="0.18" textLength="10.20" lengthAdjust="spacingAndGlyphs">H</text>
<text id="lHv" x="224.75" y="25.70" font-size="15" fill="#F23645" font-weight="normal" stroke="#F23645" stroke-width="0.18" textLength="51.89" lengthAdjust="spacingAndGlyphs">1.16280</text>
<text id="lL" x="284.50" y="25.70" font-size="15" fill="#131722" font-weight="normal" stroke="#131722" stroke-width="0.18" textLength="7.86" lengthAdjust="spacingAndGlyphs">L</text>
<text id="lLv" x="293.78" y="25.70" font-size="15" fill="#F23645" font-weight="normal" stroke="#F23645" stroke-width="0.18" textLength="50.67" lengthAdjust="spacingAndGlyphs">1.16009</text>
<text id="lC" x="354.50" y="25.70" font-size="15" fill="#131722" font-weight="normal" stroke="#131722" stroke-width="0.18" textLength="9.00" lengthAdjust="spacingAndGlyphs">C</text>
<text id="lCv" x="364.16" y="25.70" font-size="15" fill="#F23645" font-weight="normal" stroke="#F23645" stroke-width="0.18" textLength="51.72" lengthAdjust="spacingAndGlyphs">1.16117</text>
<text id="lchg" x="425.30" y="25.70" font-size="15" fill="#F23645" font-weight="normal" stroke="#F23645" stroke-width="0.18" textLength="59.68" lengthAdjust="spacingAndGlyphs">−0.00066</text>
<text id="lpct" x="490.72" y="25.70" font-size="15" fill="#F23645" font-weight="normal" stroke="#F23645" stroke-width="0.18" textLength="56.35" lengthAdjust="spacingAndGlyphs">(−0.06%)</text>
<text id="l2" x="10.40" y="46.85" font-size="15" fill="#131722" font-weight="normal" stroke="#131722" stroke-width="0.18" textLength="120.84" lengthAdjust="spacingAndGlyphs">EMA (20, close, 0)</text>
<text id="l2v" x="141.40" y="46.85" font-size="15" fill="#C2185B" font-weight="normal" stroke="#C2185B" stroke-width="0.18" textLength="52.54" lengthAdjust="spacingAndGlyphs">1.16489</text>
<text id="l3" x="10.65" y="414.90" font-size="15" fill="#131722" font-weight="normal" stroke="#131722" stroke-width="0.18" textLength="51.60" lengthAdjust="spacingAndGlyphs">RSI (14)</text>
<text id="l3v" x="70.79" y="414.90" font-size="15" fill="#9D55C2" font-weight="normal" stroke="#9D55C2" stroke-width="0.18" textLength="35.95" lengthAdjust="spacingAndGlyphs">44.41</text>
<text id="mMar" x="79.19" y="607.60" font-size="14.8" fill="#131722" font-weight="bold" stroke="#131722" stroke-width="0.00" textLength="27.00" lengthAdjust="spacingAndGlyphs">Mar</text>
<text id="mApr" x="214.79" y="607.60" font-size="14.8" fill="#131722" font-weight="bold" stroke="#131722" stroke-width="0.00" textLength="25.15" lengthAdjust="spacingAndGlyphs">Apr</text>
<text id="mMay" x="353.50" y="607.60" font-size="14.8" fill="#131722" font-weight="bold" stroke="#131722" stroke-width="0.00" textLength="28.14" lengthAdjust="spacingAndGlyphs">May</text>
<text id="mJun" x="495.52" y="607.60" font-size="14.8" fill="#131722" font-weight="bold" stroke="#131722" stroke-width="0.00" textLength="26.54" lengthAdjust="spacingAndGlyphs">Jun</text>
<text id="mJul" x="632.22" y="607.60" font-size="14.8" fill="#131722" font-weight="bold" stroke="#131722" stroke-width="0.00" textLength="21.78" lengthAdjust="spacingAndGlyphs">Jul</text>
<text id="mAug" x="776.83" y="607.60" font-size="14.8" fill="#131722" font-weight="bold" stroke="#131722" stroke-width="0.00" textLength="27.17" lengthAdjust="spacingAndGlyphs">Aug</text>
<text id="mSep" x="911.57" y="607.60" font-size="14.8" fill="#131722" font-weight="bold" stroke="#131722" stroke-width="0.00" textLength="25.29" lengthAdjust="spacingAndGlyphs">Sep</text>
<text id="mOct" x="1053.47" y="607.60" font-size="14.8" fill="#131722" font-weight="bold" stroke="#131722" stroke-width="0.00" textLength="23.71" lengthAdjust="spacingAndGlyphs">Oct</text>
<text id="mNov" x="1211.96" y="607.60" font-size="14.8" fill="#131722" font-weight="bold" stroke="#131722" stroke-width="0.00" textLength="25.91" lengthAdjust="spacingAndGlyphs">Nov</text>
<text id="mDec" x="1403.66" y="607.60" font-size="14.8" fill="#131722" font-weight="bold" stroke="#131722" stroke-width="0.00" textLength="27.25" lengthAdjust="spacingAndGlyphs">Dec</text>
<text id="sym1" x="1192.36" y="83.40" font-size="35.5" fill="#C2185B" font-weight="normal" stroke="#C2185B" stroke-width="0.43" textLength="196.58" lengthAdjust="spacingAndGlyphs">Symmetrical</text>
<text id="sym2" x="1397.97" y="83.40" font-size="35.5" fill="#C2185B" font-weight="normal" stroke="#C2185B" stroke-width="0.43" textLength="125.79" lengthAdjust="spacingAndGlyphs">Triangle</text>
</svg>
</body></html>
